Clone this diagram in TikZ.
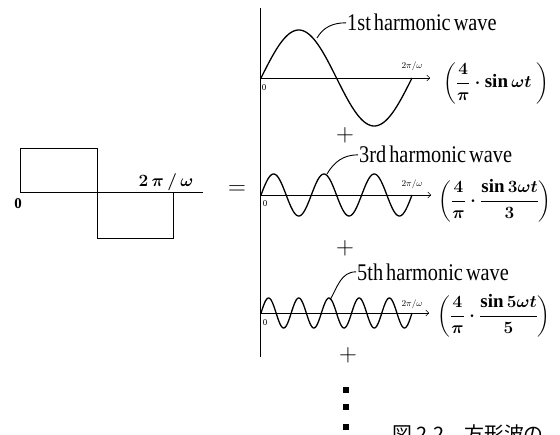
\documentclass[tikz,border=0pt]{standalone}
\usepackage{amsmath}
\usepackage{fontspec}
\setmainfont{Liberation Serif}
\newfontfamily\wavefont[FakeStretch=0.85,WordSpace=0.6]{Liberation Serif}
\newfontfamily\cjkfont{Noto Sans CJK JP}
\usetikzlibrary{arrows.meta}

\tikzset{
  harm/.style={font=\wavefont\fontsize{24}{26}\selectfont, inner sep=1bp},
  tiny/.style={font=\fontsize{9}{10}\selectfont, inner sep=0pt},
  formula/.style={font=\fontsize{19}{22}\selectfont\boldmath, inner sep=0pt},
  plus/.style={font=\fontsize{28}{30}\selectfont, inner sep=0pt},
  wavepen/.style={line width=1.3bp, line join=round},
  leader/.style={line width=0.9bp}
}

\begin{document}
\begin{tikzpicture}[x=1bp, y=-1bp, >={Straight Barb[length=3pt]}]
  \useasboundingbox (0,0) rectangle (560,435);

  % --- Onda quadra ---
  \draw[line width=1bp] (20,193) -- (20,149) -- (97,149) -- (97,239) -- (173,239) -- (173,193);
  \draw[line width=1bp] (20,193) -- (203,193);
  \node[font=\bfseries\fontsize{15}{16}\selectfont] (zero) at (18,204) {0};
  \node[font=\fontsize{16}{18}\selectfont\boldmath] (period) at (166,182) {$2\,\pi\,/\,\omega$};
  \node[font=\fontsize{34}{36}\selectfont, inner sep=0pt] (eq) at (237,190) {$=$};

  \draw[line width=1bp] (260,8) -- (260,357);

  % --- Armonica 1 ---
  \draw[->] (261,78) -- (430,78);
  \draw[wavepen] plot[domain=0:360, samples=120, smooth] ({261+\x/360*151}, {78-48*sin(\x)});
  \node[tiny] (o1) at (264,88) {0};
  \node[tiny] (t1) at (412,66) {$2\pi/\omega$};
  \node[harm, anchor=base west] (lab1) at (346,31) {1st harmonic wave};
  \coordinate (tip1) at (317,38);
  \draw[leader] (tip1) to[out=60, in=180] (lab1.west);
  \node[formula] (f1) at (496,83) {$\biggl(\dfrac{4}{\pi}\cdot\sin\omega t\ \biggr)$};
  \node[plus] (p1) at (345,135) {$+$};

  % --- Armonica 3 ---
  \draw[->] (261,195) -- (431,195);
  \draw[wavepen] plot[domain=0:360, samples=150, smooth] ({261+\x/360*151}, {195-21*sin(3*\x)});
  \node[tiny] (o3) at (265,204) {0};
  \node[tiny] (t3) at (412,184) {$2\pi/\omega$};
  \node[harm, anchor=base west] (lab3) at (358,163) {3rd harmonic wave};
  \coordinate (tip3) at (327,174);
  \draw[leader] (tip3) to[out=60, in=180] (lab3.west);
  \node[formula] (f3) at (495,201) {$\biggl(\dfrac{4}{\pi}\cdot\dfrac{\sin3\omega t}{3}\biggr)$};
  \node[plus] (p3) at (345,248) {$+$};

  % --- Armonica 5 ---
  \draw[->] (261,313) -- (429,313);
  \draw[wavepen] plot[domain=0:360, samples=200, smooth] ({261+\x/360*151}, {313-15*sin(5*\x)});
  \node[tiny] (o5) at (265,323) {0};
  \node[tiny] (t5) at (412,304) {$2\pi/\omega$};
  \node[harm, anchor=base west] (lab5) at (356,280) {5th harmonic wave};
  \coordinate (tip5) at (330,300);
  \draw[leader] (tip5) to[out=60, in=180] (lab5.west);
  \node[formula] (f5) at (494,316) {$\biggl(\dfrac{4}{\pi}\cdot\dfrac{\sin5\omega t}{5}\biggr)$};
  \node[plus] (p5) at (348,355) {$+$};

  % --- puntini ---
  \foreach \y in {390,407,427}
    \fill (343,\y-3) rectangle +(6,6);

  \node[font=\cjkfont\fontsize{20}{22}\selectfont, anchor=base west, inner sep=0pt] (cap) at (392,441) {図 2.2　方形波の};
\end{tikzpicture}
\end{document}
